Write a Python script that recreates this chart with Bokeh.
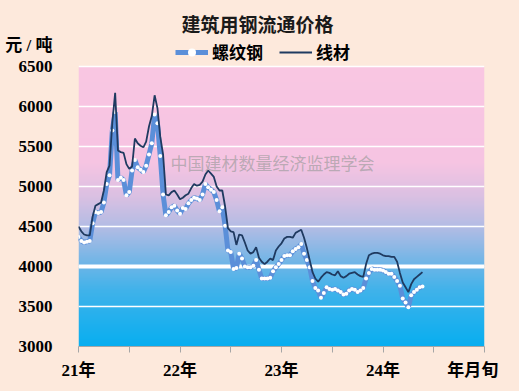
import numpy as np
from bokeh.plotting import figure
from bokeh.models import Range1d, FixedTicker, Label, Legend, LegendItem, Span, ColumnDataSource
from bokeh.embed import file_html
from bokeh.resources import INLINE

# dekadal (旬) series, Jan 2021 onward
rebar = [4370, 4320, 4300, 4310, 4320, 4540, 4680, 4670, 4680, 4800,
         5030, 5140, 5700, 5930, 5080, 5110, 5080, 4890, 4930, 5200,
         5330, 5240, 5210, 5180, 5260, 5400, 5540, 5900, 5790, 5380,
         4900, 4640, 4680, 4740, 4760, 4700, 4660, 4730, 4720, 4790,
         4830, 4860, 4850, 4830, 4900, 5030, 4990, 4960, 4930, 4830,
         4690, 4740, 4510, 4200, 4180, 3970, 3980, 4160, 4100, 4000,
         3990, 3990, 4010, 4080, 3960, 3850, 3850, 3850, 3860, 3940,
         3990, 4030, 4080, 4130, 4140, 4140, 4190, 4220, 4240, 4280,
         4160, 4080, 3990, 3820, 3730, 3700, 3610, 3670, 3740, 3720,
         3710, 3720, 3700, 3680, 3650, 3660, 3700, 3720, 3710, 3680,
         3700, 3730, 3850, 3920, 3970, 3960, 3960, 3960, 3950, 3930,
         3910, 3910, 3870, 3820, 3760, 3600, 3550, 3490, 3640, 3680,
         3710, 3740, 3750]
wire = [4500, 4440, 4400, 4390, 4390, 4620, 4760, 4780, 4800, 4950,
        5180, 5260, 5800, 6170, 5450, 5430, 5420, 5280, 5220, 5250,
        5600, 5540, 5510, 5490, 5560, 5750, 5880, 6140, 5980, 5620,
        5400, 4900, 4890, 4930, 4950, 4900, 4840, 4860, 4890, 4910,
        4980, 5030, 5010, 5020, 5060, 5150, 5200, 5160, 5120, 5000,
        4950, 4950, 4750, 4480, 4440, 4430, 4270, 4400, 4390, 4300,
        4200, 4160, 4180, 4240, 4110, 4060, 4030, 4060, 4100, 4080,
        4200, 4250, 4290, 4350, 4370, 4370, 4360, 4420, 4440, 4460,
        4360, 4230, 4080, 3930, 3850, 3810, 3860, 3900, 3930, 3920,
        3900, 3890, 3940, 3880, 3860, 3880, 3910, 3920, 3930, 3900,
        3880, 3870, 4030, 4140, 4160, 4170, 4170, 4160, 4140, 4130,
        4130, 4120, 4120, 4060, 3920, 3800, 3740, 3680, 3780, 3840,
        3870, 3900, 3930]
year_labels = ["21年", "22年", "23年", "24年"]
axis_end_label = "年月旬"
y_ticks = [3000, 3500, 4000, 4500, 5000, 5500, 6000, 6500]
title_text = "建筑用钢流通价格"
unit_text = "元 / 吨"
watermark = "中国建材数量经济监理学会"
names = ["螺纹钢", "线材"]

PEACH = "#fde9dc"
SERIF = "'Liberation Serif', 'Noto Sans CJK SC'"
Y0, Y1 = 3000, 6500
YTOP = 7325  # headroom above plot area for title and legend
UNIT_POS = 6762  # unit caption sits on the value axis above its top tick

t = np.arange(len(rebar)) / 36.0
src = ColumnDataSource(dict(t=t, rebar=rebar, wire=wire[:len(rebar)]))

p = figure(width=519, height=391, output_backend="svg", toolbar_location=None,
           x_range=Range1d(0, 4), y_range=Range1d(Y0, YTOP),
           min_border_left=78, min_border_right=35, min_border_top=0, min_border_bottom=45)
p.border_fill_color = PEACH
p.background_fill_color = PEACH
p.outline_line_color = None

# gradient background of the plotting area
stops_v = [3000, 3700, 4100, 4500, 4900, 5300, 6500]
stops_c = ["#08aef0", "#40b2ea", "#78b6e6", "#b4bce4", "#dcc0e2", "#f6c4e2", "#f9c6e2"]
def hex2rgb(h):
    return np.array([int(h[i:i + 2], 16) for i in (1, 3, 5)], float)
rgb = np.array([hex2rgb(c) for c in stops_c])
N = 350
vals = np.linspace(Y0, Y1, N)
img = np.empty((N, 1), dtype=np.uint32)
view = img.view(dtype=np.uint8).reshape((N, 1, 4))
for k in range(3):
    view[:, 0, k] = np.round(np.interp(vals, stops_v, rgb[:, k])).astype(np.uint8)
view[:, 0, 3] = 255
p.image_rgba(image=[img], x=0, y=Y0, dw=4, dh=Y1 - Y0, level="image")

p.ygrid.ticker = FixedTicker(ticks=y_ticks)
p.ygrid.grid_line_color = "white"
p.ygrid.grid_line_width = 1.5
p.xgrid.visible = False
p.add_layout(Span(location=4000, dimension="width", line_color="white", line_width=4, level="underlay"))

r1 = p.line("t", "rebar", source=src, line_color="#5b8fd9", line_width=5)
r1m = p.scatter("t", "rebar", source=src, size=4, fill_color="white", line_color=None)
r2 = p.line("t", "wire", source=src, line_color="#1f3a60", line_width=1.8)

# axes
p.yaxis.ticker = FixedTicker(ticks=y_ticks + [UNIT_POS])
p.yaxis.major_label_overrides = {UNIT_POS: unit_text}
p.yaxis.axis_line_color = None
p.yaxis.major_tick_line_color = None
p.yaxis.minor_tick_line_color = None
p.yaxis.major_label_standoff = 20
p.yaxis.major_label_text_font = SERIF
p.yaxis.major_label_text_font_style = "bold"
p.yaxis.major_label_text_font_size = "17px"
p.yaxis.major_label_text_color = "black"

xt = [0, 0.5, 1, 1.5, 2, 2.5, 3, 3.5, 4]
p.xaxis.ticker = FixedTicker(ticks=xt)
ov = {0.5: "", 1.5: "", 2.5: "", 3.5: "", 4: axis_end_label + "\u00a0" * 5}
for i, s in enumerate(year_labels):
    ov[i] = s
p.xaxis.major_label_overrides = ov
p.xaxis.axis_line_color = "#a6a6a6"
p.xaxis.major_tick_line_color = "#a6a6a6"
p.xaxis.major_tick_in = 0
p.xaxis.major_tick_out = 6
p.xaxis.minor_tick_line_color = None
p.xaxis.major_label_standoff = 8
p.xaxis.major_label_text_font = SERIF
p.xaxis.major_label_text_font_style = "bold"
p.xaxis.major_label_text_font_size = "17px"
p.xaxis.major_label_text_color = "black"

# texts
p.add_layout(Label(x=1.764, y=7015, text=title_text,
                   text_align="center", text_baseline="middle", text_font=SERIF,
                   text_font_style="bold", text_font_size="19px", text_color="#1a1a1a"))
p.add_layout(Label(x=1.911, y=5300, text=watermark,
                   text_align="center", text_baseline="middle", text_font="'Noto Sans CJK SC'",
                   text_font_size="17px", text_color="#9a9a9a", text_alpha=0.65))

legend = Legend(items=[LegendItem(label=names[0], renderers=[r1, r1m]),
                       LegendItem(label=names[1], renderers=[r2])],
                orientation="horizontal", location=(97, 282), padding=0, margin=0,
                spacing=16, glyph_width=33, glyph_height=20, label_height=20,
                label_standoff=4, background_fill_alpha=0, border_line_alpha=0,
                label_text_font=SERIF, label_text_font_style="bold",
                label_text_font_size="17px", label_text_color="black")
p.add_layout(legend, "center")

html = file_html(p, INLINE)
html = html.replace("<head>", "<head><style>html,body{background:%s;}</style>" % PEACH, 1)
open("out.html", "w").write(html)
